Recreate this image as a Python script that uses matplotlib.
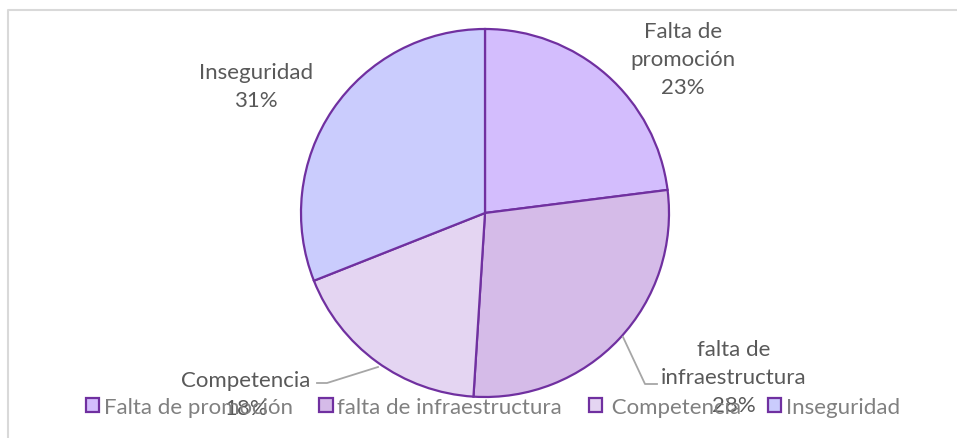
import matplotlib.pyplot as plt

# datos del grafico
categorias = ['Falta de promoción', 'falta de infraestructura', ' Competencia', 'Inseguridad']
etiquetas = ['Falta de\npromoción', 'falta de\ninfraestructura', 'Competencia', 'Inseguridad']
valores = [23, 28, 18, 31]

colores = ['#D3BDFD', '#D5BBE8', '#E4D5F2', '#CACCFD']
borde = '#7030A0'

plt.rcParams['font.family'] = ['Lato', 'DejaVu Sans']

fig = plt.figure(figsize=(9.57, 4.39), dpi=100)
ax = fig.add_axes([0, 0, 1, 1])

wedges, _ = ax.pie(valores, colors=colores, startangle=90, counterclock=False,
                   center=(485, 225), radius=184,
                   wedgeprops=dict(edgecolor=borde, linewidth=1.6))

ax.set_xlim(0, 957)
ax.set_ylim(0, 439)
ax.set_aspect('equal')
ax.axis('off')

# marco del area del grafico
ax.plot([1200, 8, 8, 1200], [428, 428, -10, -10], color='#D9D9D9', lw=1.5)

# etiquetas de datos
pos = [(683, 379), (734, 61), (246, 44), (256, 352)]
for lab, v, (x, y) in zip(etiquetas, valores, pos):
    ax.text(x, y, f'{lab}\n{v}%', ha='center', va='center', fontsize=16,
            color='#595959', linespacing=1.5)

# lineas guia
ax.plot([317, 327, 378], [55, 55, 71], color='#A6A6A6', lw=1.3)
ax.plot([623, 645, 657], [101, 54, 54], color='#A6A6A6', lw=1.3)

leg = ax.legend(wedges, categorias, loc='center', ncol=4,
                bbox_to_anchor=(493 / 957, 31 / 439), frameon=False,
                fontsize=16, handlelength=0.6, handleheight=0.6,
                handletextpad=0.2, columnspacing=1.2, borderaxespad=0)
for t in leg.get_texts():
    t.set_color('#808080')

fig.savefig('out.png', dpi=100)
